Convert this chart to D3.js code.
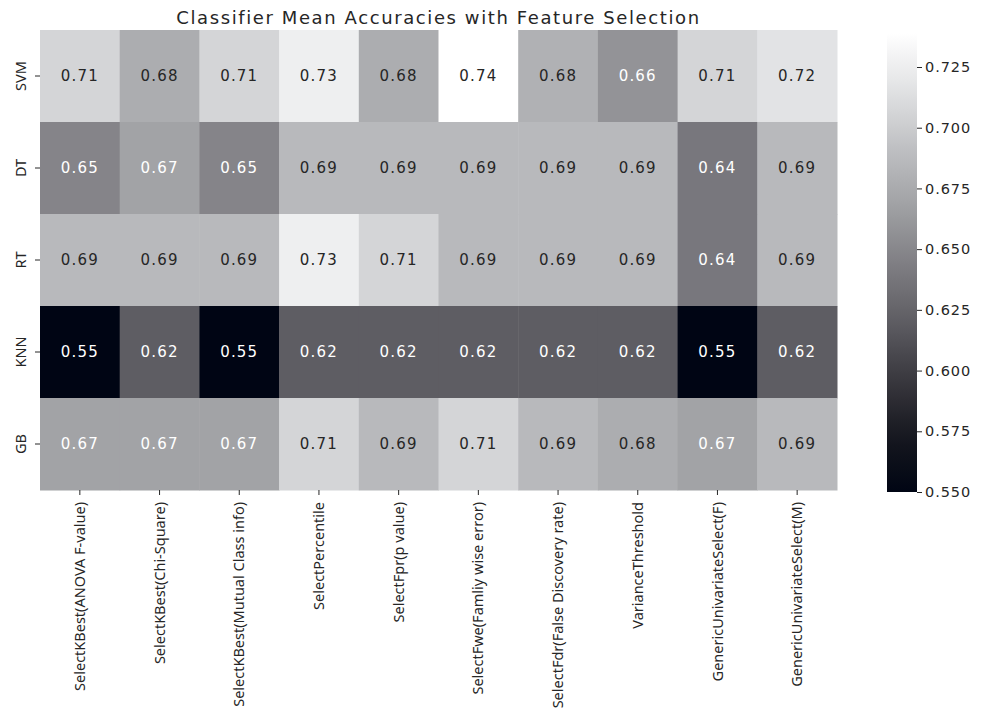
<!DOCTYPE html>
<html>
<head>
<meta charset="utf-8">
<script src="https://cdn.jsdelivr.net/npm/d3@7"></script>
<style>
  body { margin: 0; background: #fff; }
</style>
</head>
<body>
<div id="chart"></div>
<script>
'use strict';

const models = ['SVM', 'DT', 'RT', 'KNN', 'GB'];
const selectors = [
  'SelectKBest(ANOVA F-value)',
  'SelectKBest(Chi-Square)',
  'SelectKBest(Mutual Class info)',
  'SelectPercentile',
  'SelectFpr(p value)',
  'SelectFwe(Famliy wise error)',
  'SelectFdr(False Discovery rate)',
  'VarianceThreshold',
  'GenericUnivariateSelect(F)',
  'GenericUnivariateSelect(M)'
];
// mean accuracy, one row per model
const svm = [0.706, 0.677, 0.706, 0.726, 0.677, 0.739, 0.680, 0.658, 0.706, 0.716];
const dt  = [0.648, 0.669, 0.648, 0.686, 0.686, 0.686, 0.686, 0.686, 0.639, 0.686];
const rt  = [0.686, 0.686, 0.686, 0.726, 0.706, 0.686, 0.686, 0.686, 0.639, 0.686];
const knn = [0.550, 0.620, 0.550, 0.620, 0.620, 0.620, 0.620, 0.620, 0.550, 0.620];
const gb  = [0.669, 0.669, 0.669, 0.706, 0.686, 0.706, 0.686, 0.677, 0.669, 0.686];
const colorTicks = [0.550, 0.575, 0.600, 0.625, 0.650, 0.675, 0.700, 0.725];

const rows = [svm, dt, rt, knn, gb];
const cells = [];
rows.forEach((r, i) => r.forEach((v, j) => cells.push({model: models[i], sel: selectors[j], v: v})));

const W = 983, H = 719;
const mLeft = 40, mRight = 837, mTop = 30, mBottom = 490;

const vmin = d3.min(cells, d => d.v), vmax = d3.max(cells, d => d.v);

const x = d3.scaleBand().domain(selectors).range([mLeft, mRight]);
const y = d3.scaleBand().domain(models).range([mTop, mBottom]);

const stops = ['#000514', '#17181f', '#3b3a40', '#5f5e64', '#807f84', '#a1a2a5', '#bfc0c3', '#e1e2e4', '#ffffff'];
const color = d3.scaleLinear()
  .domain(d3.range(stops.length).map(k => vmin + (vmax - vmin) * k / (stops.length - 1)))
  .range(stops)
  .interpolate(d3.interpolateRgb);

const lum = function(c) {
  const rgb = d3.rgb(c);
  const f = u => { u /= 255; return u <= 0.03928 ? u / 12.92 : Math.pow((u + 0.055) / 1.055, 2.4); };
  return 0.2126 * f(rgb.r) + 0.7152 * f(rgb.g) + 0.0722 * f(rgb.b);
};

const svg = d3.select('#chart').append('svg')
  .attr('width', W).attr('height', H)
  .style('font-family', 'DejaVu Sans, sans-serif');

svg.append('text')
  .attr('x', (mLeft + mRight) / 2).attr('y', 24)
  .attr('text-anchor', 'middle')
  .style('font-size', '18px')
  .style('letter-spacing', '1.6px')
  .style('fill', '#262626')
  .text('Classifier Mean Accuracies with Feature Selection');

svg.append('g').selectAll('rect')
  .data(cells)
  .enter()
  .append('rect')
  .attr('x', d => x(d.sel))
  .attr('y', d => y(d.model))
  .attr('width', x.bandwidth() + 0.5)
  .attr('height', y.bandwidth() + 0.5)
  .style('fill', d => color(d.v));

svg.append('g').selectAll('text')
  .data(cells)
  .enter()
  .append('text')
  .attr('x', d => x(d.sel) + x.bandwidth() / 2)
  .attr('y', d => y(d.model) + y.bandwidth() / 2)
  .attr('dy', '0.36em')
  .attr('text-anchor', 'middle')
  .style('font-size', '15px')
  .style('letter-spacing', '1.2px')
  .style('fill', d => lum(color(d.v)) > 0.408 ? '#262626' : '#ffffff')
  .text(d => d3.format('.2f')(d.v));

// axes
const xAxis = svg.append('g')
  .attr('transform', `translate(0,${mBottom})`)
  .call(d3.axisBottom(x).tickSize(5));
xAxis.select('.domain').remove();
xAxis.selectAll('text')
  .attr('transform', 'rotate(-90)')
  .attr('x', -12).attr('y', 0).attr('dy', '0.35em')
  .attr('text-anchor', 'end')
  .style('font-family', 'Noto Sans, sans-serif')
  .style('font-size', '14.5px')
  .style('fill', '#262626');

const yAxis = svg.append('g')
  .attr('transform', `translate(${mLeft},0)`)
  .call(d3.axisLeft(y).tickSize(5));
yAxis.select('.domain').remove();
yAxis.selectAll('text')
  .attr('transform', 'rotate(-90)')
  .attr('x', 0).attr('y', -14)
  .attr('dy', 0)
  .attr('text-anchor', 'middle')
  .style('font-family', 'Noto Sans, sans-serif')
  .style('font-size', '14.5px')
  .style('fill', '#262626');
svg.selectAll('.tick line').style('stroke', '#262626');

// colorbar
const cbX = 887, cbW = 30;
const cy = d3.scaleLinear().domain([vmin, vmax]).range([492, 33]);
const defs = svg.append('defs');
const grad = defs.append('linearGradient').attr('id', 'cbgrad')
  .attr('x1', 0).attr('y1', 1).attr('x2', 0).attr('y2', 0);
d3.range(0, 1.0001, 0.05).forEach(t => {
  grad.append('stop').attr('offset', t).attr('stop-color', color(vmin + t * (vmax - vmin)));
});
svg.append('rect')
  .attr('x', cbX).attr('y', cy(vmax))
  .attr('width', cbW).attr('height', cy(vmin) - cy(vmax))
  .style('fill', 'url(#cbgrad)');
const cAxis = svg.append('g')
  .attr('transform', `translate(${cbX + cbW},0)`)
  .call(d3.axisRight(cy).tickValues(colorTicks).tickFormat(d3.format('.3f')).tickSize(5).tickPadding(3));
cAxis.select('.domain').remove();
cAxis.selectAll('text')
  .style('font-family', 'DejaVu Sans, sans-serif')
  .style('font-size', '14.5px')
  .style('letter-spacing', '0.9px')
  .style('fill', '#262626');
cAxis.selectAll('line').style('stroke', '#262626');
</script>
</body>
</html>
